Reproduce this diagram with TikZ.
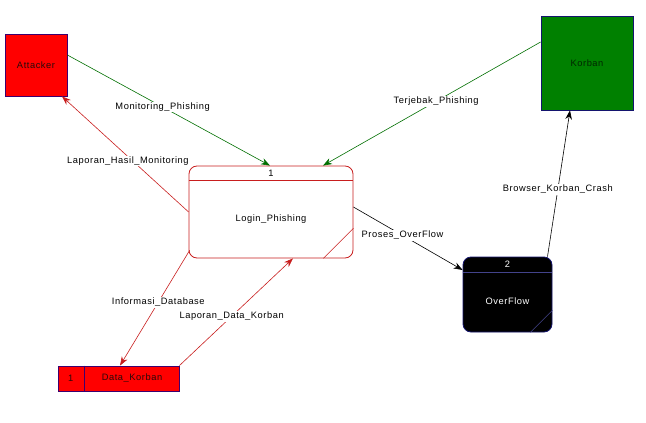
\documentclass[tikz,border=0pt]{standalone}
\usepackage{fontspec}
\setmainfont{Liberation Sans}[LetterSpace=6]
\usetikzlibrary{arrows.meta,calc}
\definecolor{lred}{RGB}{200,30,30}
\definecolor{lgreen}{RGB}{0,110,0}
\definecolor{bordpurple}{RGB}{60,0,110}
\definecolor{bordnavy}{RGB}{20,20,110}
\definecolor{fgreen}{RGB}{0,128,0}
\definecolor{etext}{RGB}{40,10,10}
\tikzset{
  ext/.style={draw=bordpurple,line width=0.8pt,inner sep=0pt,font=\fontsize{9.3}{11}\selectfont,text=etext},
  proc/.style={draw,line width=0.8pt,rounded corners=8pt,inner sep=0pt},
  lbl/.style={fill=white,inner sep=1pt,font=\fontsize{9.3}{11}\selectfont,text=black},
  flow/.style={line width=0.6pt,-{Stealth[length=9pt,width=6.5pt]}},
  txt/.style={font=\fontsize{9.3}{11}\selectfont,inner sep=0pt}
}
\begin{document}
\begin{tikzpicture}[x=1pt,y=-1pt]
\useasboundingbox (0,0) rectangle (646,423);
% entities
\node[ext,fill=red,minimum width=62pt,minimum height=62pt] (att) at (36,65) {Attacker};
\node[ext,draw=bordnavy,fill=fgreen,minimum width=92pt,minimum height=94pt,text=black!85!green] (kor) at (587,63) {Korban};
% process 1
\node[proc,draw=lred,fill=white,minimum width=164pt,minimum height=92pt] (login) at (271,212) {};
\draw[lred,line width=0.6pt] ($(login.north west)+(0,15)$) coordinate (l1) -- ($(login.north east)+(0,15)$) coordinate (l2);
\node[txt] (ln) at ($(login.north)+(0,7.5)$) {1};
\node[txt] (lt) at ($(login.center)+(0,7)$) {Login\_Phishing};
\draw[lred,line width=0.5pt] ($(login.south east)+(-30,0)$) coordinate (ld1) -- ($(login.south east)+(0,-30)$) coordinate (ld2);
% process 2
\node[proc,draw=bordnavy,fill=black,minimum width=89pt,minimum height=75pt] (ovf) at (507.5,294.5) {};
\draw[bordnavy!80!white,line width=0.8pt] ($(ovf.north west)+(0,16)$) coordinate (o1) -- ($(ovf.north east)+(0,16)$) coordinate (o2);
\node[txt,text=white] (on) at ($(ovf.north)+(0,8)$) {2};
\node[txt,text=white] (ot) at ($(ovf.center)+(0,6.5)$) {OverFlow};
\draw[bordnavy!80!white,line width=0.6pt] ($(ovf.south east)+(-22,0)$) coordinate (od1) -- ($(ovf.south east)+(0,-22)$) coordinate (od2);
% data store
\node[ext,draw=bordpurple,fill=red,minimum width=121pt,minimum height=25pt] (dk) at (118.5,378.5) {};
\draw[bordpurple,line width=0.8pt] ($(dk.north west)+(27,0)$) coordinate (d1) -- ($(dk.south west)+(27,0)$) coordinate (d2);
\node[txt,text=etext] (dn) at ($(dk.west)+(13,0)$) {1};
\node[txt,text=etext] (dt) at ($(dk.center)+(13.5,0)$) {Data\_Korban};
% flows
\draw[flow,lgreen] ([yshift=10pt]att.east) -- node[lbl,pos=0.47] (m1) {Monitoring\_Phishing} ([xshift=-1pt]login.north);
\draw[flow,lgreen] ([yshift=21pt]kor.west) -- node[lbl,pos=0.48] (m2) {Terjebak\_Phishing} ([xshift=52pt]login.north);
\draw[flow,lred] (login.west) -- node[lbl,pos=0.44,xshift=-5pt] (m3) {Laporan\_Hasil\_Monitoring} ([xshift=26pt]att.south);
\draw[flow,black] ([yshift=5pt]login.east) -- node[lbl,pos=0.45] (m4) {Proses\_OverFlow} ([yshift=24.5pt]ovf.west);
\draw[flow,black] ([xshift=40pt]ovf.north) -- node[lbl,pos=0.46] (m5) {Browser\_Korban\_Crash} ([xshift=-17pt]kor.south);
\draw[flow,lred] ([xshift=1pt,yshift=8pt]login.south west) -- node[lbl,pos=0.45] (m6) {Informasi\_Database} ([xshift=1.5pt]dk.north);
\draw[flow,lred] (dk.north east) -- node[lbl,pos=0.46] (m7) {Laporan\_Data\_Korban} ([xshift=22pt]login.south);
\end{tikzpicture}
\end{document}
